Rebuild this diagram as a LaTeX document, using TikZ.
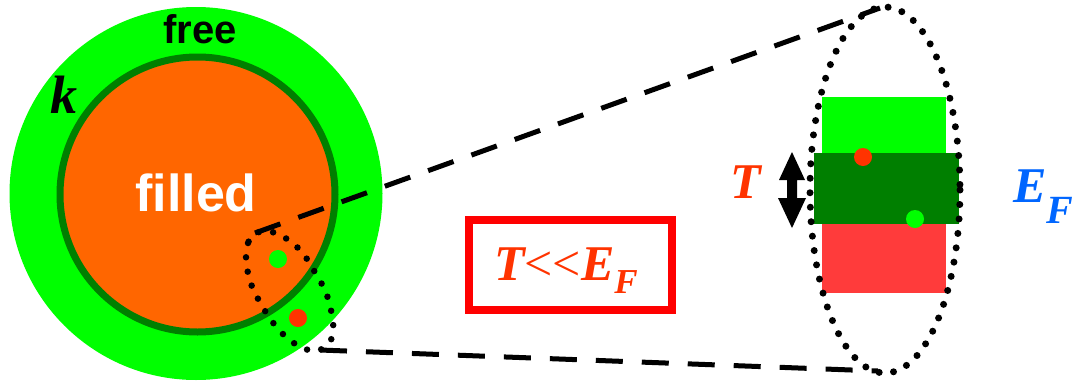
\documentclass[tikz,border=0pt]{standalone}
\usepackage{fontspec}
\setmainfont{Liberation Serif}
\newfontfamily\headsans{Liberation Sans}
\usetikzlibrary{shapes.geometric}
\definecolor{ringgreen}{HTML}{00FF00}
\definecolor{darkgreen}{HTML}{007F00}
\definecolor{fillorange}{HTML}{FF6600}
\definecolor{textred}{HTML}{FF3300}
\definecolor{boxred}{HTML}{FF0000}
\definecolor{rectred}{HTML}{FF3B3B}
\definecolor{efblue}{HTML}{0066FF}
\tikzset{
  dashline/.style={draw=black,line width=5pt,dash pattern=on 27pt off 19pt},
  dotline/.style={draw=black,line width=7pt,line cap=round,dash pattern=on 0pt off 14.5pt},
  stateDot/.style={circle,inner sep=0pt,minimum size=18pt},
  sanslabel/.style={font=\headsans\bfseries\fontsize{40}{40}\selectfont,inner sep=0pt,anchor=base},
  seriflabel/.style={font=\bfseries\itshape\fontsize{50}{50}\selectfont,inner sep=0pt,anchor=base},
}
\begin{document}
\begin{tikzpicture}[x=1pt,y=-1pt]
\useasboundingbox (0,0) rectangle (1072,381);
% Fermi sphere
\fill[ringgreen] (196,193.5) circle[radius=186.5];
\draw[darkgreen,fill=fillorange,line width=7pt] (197.5,194.5) circle[radius=137.5];
\node[sanslabel] (free) at (200,43) {free};
\node[sanslabel,white,font=\headsans\bfseries\fontsize{52}{52}\selectfont] (filled) at (196,211) {filled};
\node[seriflabel,font=\bfseries\itshape\fontsize{54}{54}\selectfont] (k) at (64,113) {k};
% small dotted region
\draw[dotline,line width=6.5pt] plot[smooth cycle,tension=0.6] coordinates {
 (256,233) (248,243) (246,258) (248,273) (253,289) (261,304) (269,317)
 (279,330) (291,341) (305,349) (320,350) (332,338) (333,322) (330,306)
 (325,290) (317,276) (309,262) (299,249) (287,239) (272,232)};
\node[stateDot,fill=ringgreen] (g1) at (278,259) {};
\node[stateDot,fill=textred] (r1) at (298,318) {};
% zoom lines
\coordinate (s1) at (255,233);
\coordinate (s2) at (320,350);
\coordinate (e1) at (880,8);
\coordinate (e2) at (878,371);
\draw[dashline] (s1) -- (e1);
\draw[dashline] (s2) -- (e2);
% energy bands
\fill[ringgreen] (822,97) rectangle (946,153);
\fill[rectred] (822,224) rectangle (946,293);
\fill[darkgreen] (814,153) rectangle (959,224);
\node[stateDot,fill=textred] (r2) at (863,157) {};
\node[stateDot,fill=ringgreen] (g2) at (915,219) {};
% ellipse
\draw[dotline] (885,190) ellipse[x radius=75,y radius=183];
% double arrow
\fill[black] (792,152) -- (805,180) -- (797,180) -- (797,198) -- (806,198) -- (792,228)
  -- (778,198) -- (787,198) -- (787,180) -- (779,180) -- cycle;
\node[seriflabel,textred] (T) at (746,198) {T};
\node[seriflabel,efblue,anchor=base west] (EF) at (1013,202) {E\raisebox{-21pt}{\fontsize{40}{40}\selectfont F}};
% box
\draw[boxred,line width=8pt] (469,220) rectangle (672,310);
\node[seriflabel,textred] (cond) at (566,280) {T{\mdseries\upshape <\kern0pt<\kern0pt}E\raisebox{-13pt}{\fontsize{35}{35}\selectfont F}};
\end{tikzpicture}
\end{document}
